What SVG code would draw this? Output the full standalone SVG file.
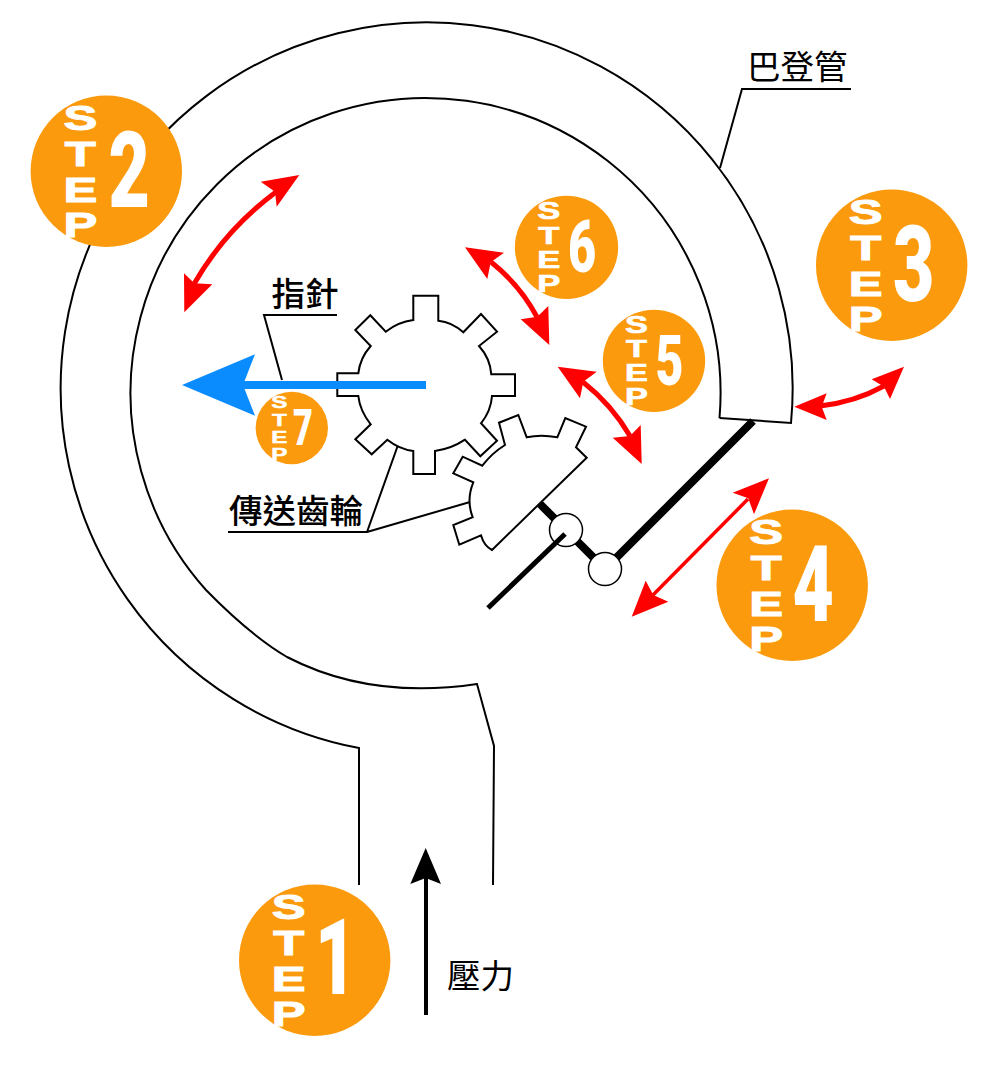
<svg xmlns="http://www.w3.org/2000/svg" width="987" height="1072" viewBox="0 0 987 1072">
<style>
.o{fill:none;stroke:#000;stroke-width:2;stroke-linejoin:miter}
.g{fill:#fff;stroke:#000;stroke-width:2;stroke-linejoin:miter}
.k{fill:none;stroke:#000;stroke-linecap:butt}
.r{fill:none;stroke:#f00;stroke-width:5}
.h{fill:#f00}
.b{fill:#0a8cff}
.c{fill:#fc9a0e}
.l{font-family:"Liberation Sans",Arial,sans-serif;font-weight:700;font-size:35px;fill:#fff;stroke:#fff;stroke-width:1;text-anchor:middle}
.d{font-family:Roboto,"Liberation Sans",sans-serif;font-weight:900;font-size:105px;fill:#fff;text-anchor:middle}
.t{font-family:"Noto Sans CJK TC","Noto Sans CJK SC",sans-serif;font-weight:400;font-size:33.500px;fill:#000}
.m{font-weight:500}
</style>
<rect width="987" height="1072" fill="#fff"/>
<g id="connectors">
<path class="k" stroke-width="8" d="M753 421L605 569L540 504"/>
<path id="tube-outer" class="o" d="M359 885V748A366 366 0 1 1 791 423L719.500 418"/>
<path id="tube-inner" class="o" d="M719.500 418A295 295 0 1 0 206 590Q250 635 287 657Q370 700 477 684L494 746L493 885"/>
<path class="o" d="M851 89H742L720 168"/>
<path class="o" d="M337 315H264L282 380"/>
<path class="o" d="M228 532H367L398 445M367 532L470 502"/>
<path class="k" stroke-width="4" d="M426 1015V875"/>
<polygon points="425.700,848 410.300,884 425.700,878 441,884" fill="#000"/>
<path class="r" d="M276 192Q225 230 194 284"/>
<polygon class="h" points="299.300,175 260.700,181.700 275,191.700 276.700,206.700"/>
<polygon class="h" points="184.300,312.300 184,273.300 194.300,283.300 212.300,284.300"/>
<path class="r" d="M820 406Q855 402 884 386"/>
<polygon class="h" points="794.300,406.700 826.700,393.300 821.700,406.700 826.700,420"/>
<polygon class="h" points="904,366.700 871.700,379.300 884,386.700 890,399"/>
<path class="r" style="stroke-width:3.500px" d="M748 499L653 595"/>
<polygon class="h" points="769,478.300 732.700,492.700 748.300,498.300 754,514.300"/>
<polygon class="h" points="631.700,616.700 645.700,580.700 653.300,595 668.300,601.700"/>
<path class="r" d="M583 382Q612 405 630 436"/>
<polygon class="h" points="557.700,366.700 596.700,371.700 583.300,381.700 580,398.300"/>
<polygon class="h" points="641.700,464 640.700,425 630,436 612.700,437.700"/>
<path class="r" d="M491 262Q520 285 537 317"/>
<polygon class="h" points="465,247.300 504,252.700 490.700,262.300 487.300,279"/>
<polygon class="h" points="549.300,345 548.300,306 537.300,316.700 520.700,319.300"/>
</g>
<g id="gear-small">
<path class="g" d="M586.700 457.700L576 447.300L586 426.700L565.300 418L557.300 437.300Q541 434 526.700 437.300L518.300 415L499 422.700L505 445Q492 453 482.300 465.700L462.700 456.700L453.300 473.300L473.300 482.300Q466 500 472.700 517.300L453.300 525L459.300 544.700L481 535.300Q484 546 492 550Z"/>
</g>
<g id="gear-large">
<path class="g" d="M413.300 320V295.700H438.300V320.700Q452 322 463.300 332.300L481 314L497 331.700L479 346Q490 358 491.300 374.300H515V396H492Q491 411 481 423.300L497 440.700L480.300 456.300L465 439.700Q451 449 435 451V474H413.300V451Q399 449 387.300 439.700L371.700 454.300L355.300 439.300L370.700 424.300Q360 411 358.300 396H337.300V373.300H358.300Q360 358 370.700 346L355.300 330L370.300 315.300L385.700 331.700Q398 322 413.300 320Z"/>
</g>
<g id="pointer">
<rect class="b" x="235" y="381" width="191" height="8"/>
<polygon class="b" points="182,385 255,354.300 243,385 255,415.700"/>
</g>
<g id="linkage">
<circle class="g" style="stroke-width:1.500px" cx="566" cy="530" r="16.500"/>
<circle class="g" style="stroke-width:1.500px" cx="605" cy="569" r="16.500"/>
<path class="k" stroke-width="5" d="M565 534L488 608"/>
</g>
<g id="label-bourdon"><text class="t" x="747" y="79">巴登管</text></g>
<g id="label-pointer"><text class="t m" x="271.500" y="306">指針</text></g>
<g id="label-gears"><text class="t m" x="229" y="523">傳送齒輪</text></g>
<g id="label-pressure"><text class="t" x="447" y="988">壓力</text></g>
<g id="step1" transform="translate(314.700,960.200)">
<circle class="c" r="75.700"/>
<text class="l" transform="translate(-26,-41) scale(1.45,1)">S</text><text class="l" transform="translate(-26,-5) scale(1.45,1)">T</text><text class="l" transform="translate(-26,30.500) scale(1.45,1)">E</text><text class="l" transform="translate(-26,66) scale(1.45,1)">P</text>
<text class="d" transform="translate(21,34) scale(.68,1)">1</text>
</g>
<g id="step2" transform="translate(106.300,171.300)">
<circle class="c" r="75.700"/>
<text class="l" transform="translate(-26,-41) scale(1.45,1)">S</text><text class="l" transform="translate(-26,-5) scale(1.45,1)">T</text><text class="l" transform="translate(-26,30.500) scale(1.45,1)">E</text><text class="l" transform="translate(-26,66) scale(1.45,1)">P</text>
<text class="d" transform="translate(23,35.500) scale(.68,1)">2</text>
</g>
<g id="step3" transform="translate(891.700,265.200)">
<circle class="c" r="75.700"/>
<text class="l" transform="translate(-26,-41) scale(1.45,1)">S</text><text class="l" transform="translate(-26,-5) scale(1.45,1)">T</text><text class="l" transform="translate(-26,30.500) scale(1.45,1)">E</text><text class="l" transform="translate(-26,66) scale(1.45,1)">P</text>
<text class="d" transform="translate(22,35.500) scale(.68,1)">3</text>
</g>
<g id="step4" transform="translate(792.200,585.300)">
<circle class="c" r="75.700"/>
<text class="l" transform="translate(-26,-41) scale(1.45,1)">S</text><text class="l" transform="translate(-26,-5) scale(1.45,1)">T</text><text class="l" transform="translate(-26,30.500) scale(1.45,1)">E</text><text class="l" transform="translate(-26,66) scale(1.45,1)">P</text>
<text class="d" transform="translate(21,35.500) scale(.68,1)">4</text>
</g>
<g id="step5" transform="translate(654,360.800) scale(.676)">
<circle class="c" r="75.700"/>
<text class="l" transform="translate(-26,-41) scale(1.45,1)">S</text><text class="l" transform="translate(-26,-5) scale(1.45,1)">T</text><text class="l" transform="translate(-26,30.500) scale(1.45,1)">E</text><text class="l" transform="translate(-26,66) scale(1.45,1)">P</text>
<text class="d" transform="translate(23,35.500) scale(.68,1)">5</text>
</g>
<g id="step6" transform="translate(566.500,247.300) scale(.682)">
<circle class="c" r="75.700"/>
<text class="l" transform="translate(-26,-41) scale(1.45,1)">S</text><text class="l" transform="translate(-26,-5) scale(1.45,1)">T</text><text class="l" transform="translate(-26,30.500) scale(1.45,1)">E</text><text class="l" transform="translate(-26,66) scale(1.45,1)">P</text>
<text class="d" transform="translate(23,35.500) scale(.68,1)">6</text>
</g>
<g id="step7" transform="translate(291.800,428) scale(.478)">
<circle class="c" r="75.700"/>
<text class="l" transform="translate(-26,-41) scale(1.45,1)">S</text><text class="l" transform="translate(-26,-5) scale(1.45,1)">T</text><text class="l" transform="translate(-26,30.500) scale(1.45,1)">E</text><text class="l" transform="translate(-26,66) scale(1.45,1)">P</text>
<text class="d" transform="translate(23,35.500) scale(.68,1)">7</text>
</g>
</svg>
